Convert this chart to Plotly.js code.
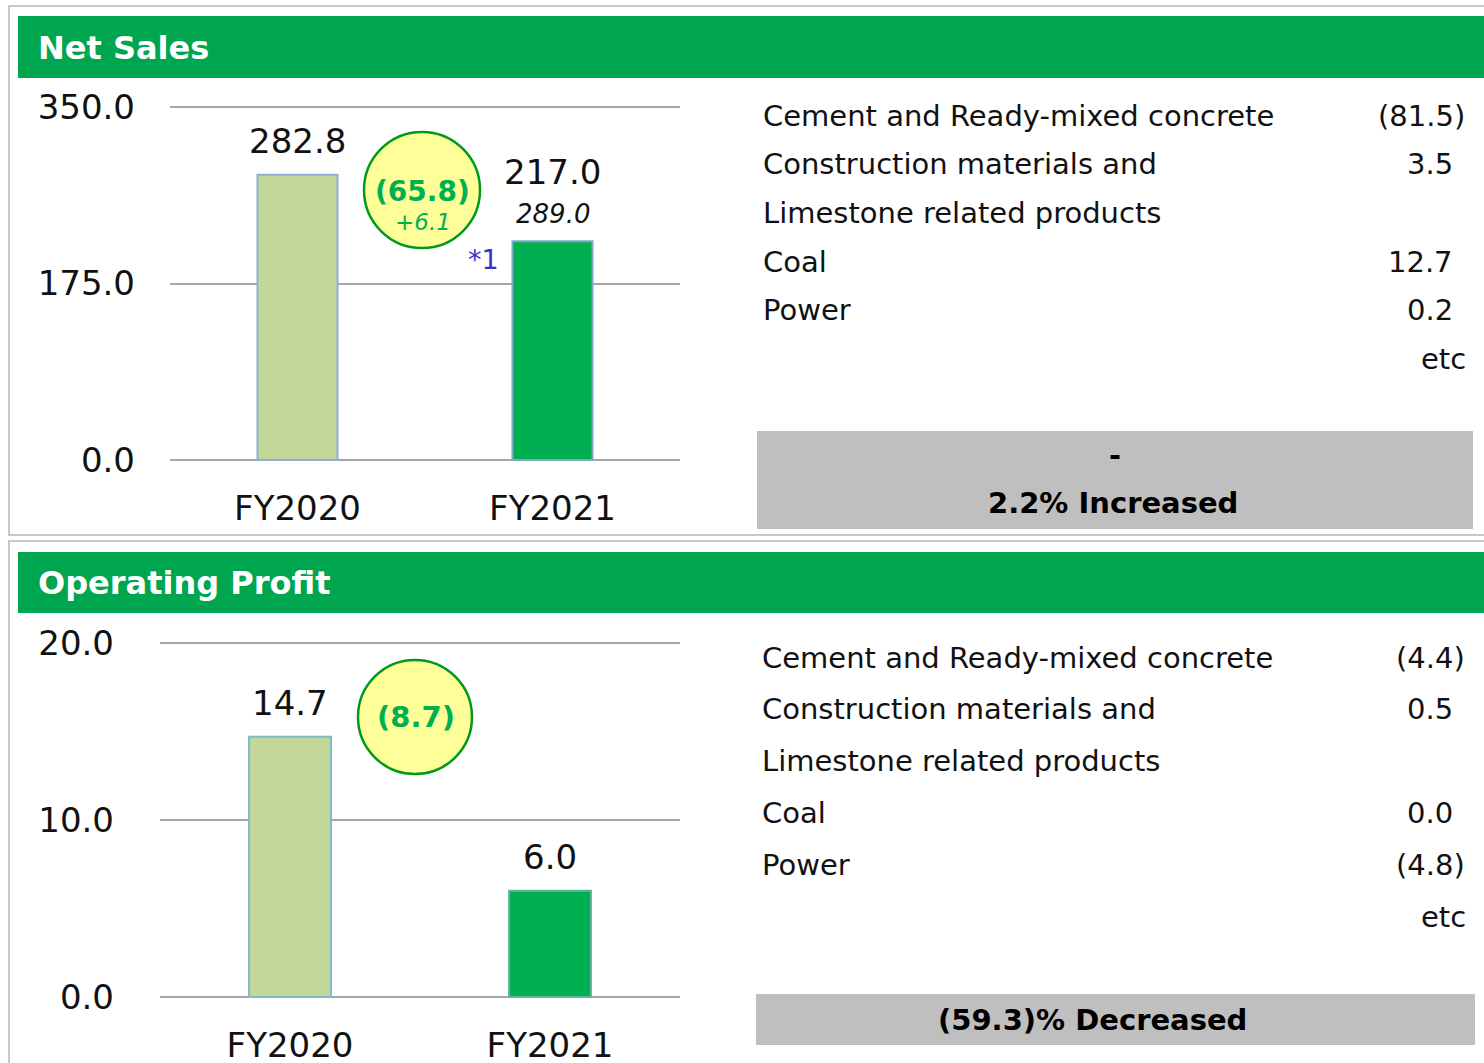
<!DOCTYPE html>
<html>
<head>
<meta charset="utf-8">
<script src="https://cdn.plot.ly/plotly-3.0.1.min.js"></script>
<style>
html,body{margin:0;padding:0;background:#fff;}
#chart{width:1484px;height:1063px;}
</style>
</head>
<body>
<div id="chart"></div>
<script>
// ---------- DATA ----------
const categories = ['FY2020', 'FY2021'];
const netSales = [282.8, 217.0];
const netSalesForecast = '289.0';
const netSalesChange = '(65.8)';
const netSalesChangeSub = '+6.1';
const netSalesNoteMark = '*1';
const operatingProfit = [14.7, 6.0];
const opChange = '(8.7)';
const netSalesTicks = [0, 175, 350];
const opTicks = [0, 10, 20];
const segments = ['Cement and Ready-mixed concrete', 'Construction materials and', 'Limestone related products', 'Coal', 'Power', 'etc'];
const netSalesSegValues = ['(81.5)', '3.5', '', '12.7', '0.2', ''];
const opSegValues = ['(4.4)', '0.5', '', '0.0', '(4.8)', ''];
const netSalesSummary = ['-', '2.2% Increased'];
const opSummary = ['(59.3)% Decreased'];

// ---------- LAYOUT HELPERS ----------
const W = 1484, H = 1063;
const px = x => x / W;
const py = y => 1 - y / H;
const FONT = 'DejaVu Sans, Verdana, sans-serif';
const GREEN = '#00a54f';
const BAR_LIGHT = '#c4d79b';
const BAR_DARK = '#00b050';

const traces = [
  {
    type: 'bar', x: categories, y: netSales, xaxis: 'x', yaxis: 'y', width: 0.314,
    marker: {color: [BAR_LIGHT, BAR_DARK], line: {color: ['#8fb0d4', '#7fa8c8'], width: 2}},
    hoverinfo: 'x+y'
  },
  {
    type: 'bar', x: categories, y: operatingProfit, xaxis: 'x2', yaxis: 'y2', width: 0.315,
    marker: {color: [BAR_LIGHT, BAR_DARK], line: {color: ['#7cbcc4', '#5fb3a0'], width: 2}},
    hoverinfo: 'x+y'
  }
];

const axisFont = {family: FONT, size: 34, color: '#111'};

const shapes = [];
const annotations = [];
function pnote(o) {
  annotations.push(Object.assign({xref: 'paper', yref: 'paper', xanchor: 'center', yanchor: 'middle', showarrow: false}, o));
}

// Panel frames
shapes.push({type: 'rect', xref: 'paper', yref: 'paper', x0: px(9), x1: px(1500), y0: py(6), y1: py(535), line: {color: '#c8c8c8', width: 2}, fillcolor: 'rgba(0,0,0,0)', layer: 'below'});
shapes.push({type: 'rect', xref: 'paper', yref: 'paper', x0: px(9), x1: px(1500), y0: py(541), y1: py(1080), line: {color: '#c8c8c8', width: 2}, fillcolor: 'rgba(0,0,0,0)', layer: 'below'});
// Green headers
shapes.push({type: 'rect', xref: 'paper', yref: 'paper', x0: px(18), x1: px(1490), y0: py(16), y1: py(78), line: {width: 0}, fillcolor: GREEN, layer: 'below'});
shapes.push({type: 'rect', xref: 'paper', yref: 'paper', x0: px(18), x1: px(1490), y0: py(552), y1: py(613), line: {width: 0}, fillcolor: GREEN, layer: 'below'});
pnote({x: px(36), y: py(48), xanchor: 'left', text: '<b>Net Sales</b>', font: {family: FONT, size: 32, color: '#fff'}});
pnote({x: px(36), y: py(583), xanchor: 'left', text: '<b>Operating Profit</b>', font: {family: FONT, size: 32, color: '#fff'}});

// Gray summary boxes
shapes.push({type: 'rect', xref: 'paper', yref: 'paper', x0: px(757), x1: px(1473), y0: py(431), y1: py(529), line: {width: 0}, fillcolor: '#bfbfbf', layer: 'below'});
shapes.push({type: 'rect', xref: 'paper', yref: 'paper', x0: px(756), x1: px(1475), y0: py(994), y1: py(1045), line: {width: 0}, fillcolor: '#bfbfbf', layer: 'below'});
pnote({x: px(1115), y: py(455), text: '<b>' + netSalesSummary[0] + '</b>', font: {family: FONT, size: 29, color: '#000'}});
pnote({x: px(1113), y: py(503), text: '<b>' + netSalesSummary[1] + '</b>', font: {family: FONT, size: 29, color: '#000'}});
pnote({x: px(1092), y: py(1020), text: '<b>' + opSummary[0] + '</b>', font: {family: FONT, size: 29, color: '#000'}});

// Segment tables
const topRows = [116, 164, 213, 262, 310, 359];
const botRows = [658, 709, 761, 813, 865, 917];
const segFont = {family: FONT, size: 29, color: '#111'};
segments.forEach((s, i) => {
  const isEtc = s === 'etc';
  const anchor = isEtc ? 'right' : 'left';
  pnote({x: isEtc ? px(1468) : px(761), y: py(topRows[i]), xanchor: anchor, text: s, font: segFont});
  pnote({x: isEtc ? px(1468) : px(760), y: py(botRows[i]), xanchor: anchor, text: s, font: segFont});
  const v1 = netSalesSegValues[i], v2 = opSegValues[i];
  if (v1) pnote({x: px(v1.endsWith(')') ? 1467 : 1455), y: py(topRows[i]), xanchor: 'right', text: v1, font: segFont});
  if (v2) pnote({x: px(v2.endsWith(')') ? 1467 : 1455), y: py(botRows[i]), xanchor: 'right', text: v2, font: segFont});
});

// Bar value labels
const labelFont = {family: FONT, size: 34, color: '#111'};
annotations.push({xref: 'x', yref: 'y', x: categories[0], y: netSales[0], yshift: 34, showarrow: false, text: netSales[0].toFixed(1), font: labelFont});
annotations.push({xref: 'x', yref: 'y', x: categories[1], y: netSales[1], yshift: 69, showarrow: false, text: netSales[1].toFixed(1), font: labelFont});
annotations.push({xref: 'x', yref: 'y', x: categories[1], y: netSales[1], yshift: 27, showarrow: false, text: '<i>' + netSalesForecast + '</i>', font: {family: FONT, size: 26, color: '#111'}});
annotations.push({xref: 'x', yref: 'y', x: categories[1], y: netSales[1], xshift: -69, yshift: -18, showarrow: false, text: netSalesNoteMark, font: {family: FONT, size: 27, color: '#3333cc'}});
annotations.push({xref: 'x2', yref: 'y2', x: categories[0], y: operatingProfit[0], yshift: 34, showarrow: false, text: operatingProfit[0].toFixed(1), font: labelFont});
annotations.push({xref: 'x2', yref: 'y2', x: categories[1], y: operatingProfit[1], yshift: 34, showarrow: false, text: operatingProfit[1].toFixed(1), font: labelFont});

// Change bubbles
function bubble(cx, cy, r) {
  shapes.push({type: 'circle', xref: 'paper', yref: 'paper', x0: px(cx - r), x1: px(cx + r), y0: py(cy + r), y1: py(cy - r), fillcolor: '#ffff99', line: {color: '#009a1a', width: 2.5}, layer: 'below'});
}
bubble(422, 190, 58);
bubble(415, 717, 57);
pnote({x: px(422), y: py(191), text: '<b>' + netSalesChange + '</b>', font: {family: FONT, size: 28, color: BAR_DARK}});
pnote({x: px(423), y: py(222), text: '<i>' + netSalesChangeSub + '</i>', font: {family: FONT, size: 23, color: BAR_DARK}});
pnote({x: px(416), y: py(717), text: '<b>' + opChange + '</b>', font: {family: FONT, size: 29, color: BAR_DARK}});

const gridCommon = {showgrid: true, gridcolor: '#a6a6a6', gridwidth: 2, zeroline: false, showline: false, ticks: '', tickfont: axisFont, tickformat: '.1f', fixedrange: true};
const xCommon = {type: 'category', range: [-0.5, 1.5], showgrid: false, zeroline: false, showline: false, ticks: '', tickfont: axisFont, ticklabelstandoff: 24, fixedrange: true};

const layout = {
  width: W, height: H,
  margin: {l: 0, r: 0, t: 0, b: 0},
  paper_bgcolor: '#fff', plot_bgcolor: 'rgba(0,0,0,0)',
  showlegend: false,
  bargap: 0,
  xaxis: Object.assign({}, xCommon, {domain: [px(170), px(680)], anchor: 'y'}),
  yaxis: Object.assign({}, gridCommon, {domain: [py(461), py(106)], range: [-1, 351], tickvals: netSalesTicks, ticklabelstandoff: 34, anchor: 'x'}),
  xaxis2: Object.assign({}, xCommon, {domain: [px(160), px(680)], anchor: 'y2'}),
  yaxis2: Object.assign({}, gridCommon, {domain: [py(998), py(642)], range: [-0.06, 20.06], tickvals: opTicks, ticklabelstandoff: 45, anchor: 'x2'}),
  shapes: shapes,
  annotations: annotations
};

Plotly.newPlot('chart', traces, layout, {displayModeBar: false, staticPlot: true});
</script>
</body>
</html>
